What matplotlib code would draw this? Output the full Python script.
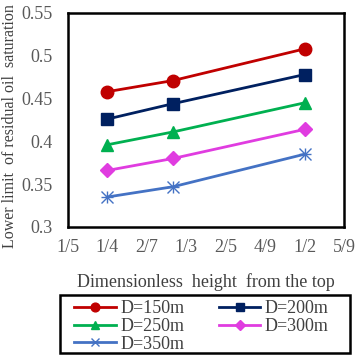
import matplotlib
matplotlib.use('Agg')
import matplotlib.pyplot as plt
from matplotlib.patches import Rectangle
from matplotlib.ticker import FixedLocator, FixedFormatter

plt.rcParams['font.family'] = ['Liberation Serif', 'DejaVu Serif']

# ====== Data ======
height = [1/4, 1/3, 1/2]
d150 = [0.458, 0.471, 0.508]
d200 = [0.426, 0.444, 0.478]
d250 = [0.396, 0.411, 0.445]
d300 = [0.366, 0.380, 0.414]
d350 = [0.335, 0.347, 0.385]

x_ticks = [0.2, 0.25, 0.3, 0.35, 0.4, 0.45, 0.5, 0.55]
x_tick_labels = ['1/5', '1/4', '2/7', '1/3', '2/5', '4/9', '1/2', '5/9']
y_ticks = [0.3, 0.35, 0.4, 0.45, 0.5, 0.55]
y_tick_labels = ['0.3', '0.35', '0.4', '0.45', '0.5', '0.55']

series = [
    ('D=150m', d150, '#C00000', 'o', 9),
    ('D=200m', d200, '#002060', 's', 8),
    ('D=250m', d250, '#00B050', '^', 8),
    ('D=300m', d300, '#E03CE0', 'D', 7),
    ('D=350m', d350, '#4472C4', 'x', 9),
]

# ====== Plot ======
fig = plt.figure(figsize=(3.63, 3.58), dpi=100)
ax = fig.add_axes([0.187, 0.366, 0.761, 0.598])

handles = {}
for label, vals, color, marker, ms in series:
    if marker == 'x':
        h, = ax.plot(height, vals, color=color, linewidth=2, marker='x', markersize=ms,
                     markeredgewidth=1, label=label)
        ax.plot(height, vals, color=color, linewidth=0, marker='+', markersize=ms,
                markeredgewidth=1)
    else:
        h, = ax.plot(height, vals, color=color, linewidth=2, marker=marker, markersize=ms,
                     label=label)
    handles[label] = h

ax.set_xlim(0.2, 0.55)
ax.set_ylim(0.3, 0.55)
ax.xaxis.set_major_locator(FixedLocator(x_ticks))
ax.xaxis.set_major_formatter(FixedFormatter(x_tick_labels))
ax.yaxis.set_major_locator(FixedLocator(y_ticks))
ax.yaxis.set_major_formatter(FixedFormatter(y_tick_labels))
ax.tick_params(axis='y', length=0, labelsize=13, labelcolor='#595959', pad=11)
ax.tick_params(axis='x', length=0, labelsize=13, labelcolor='#595959', pad=9)
for s in ax.spines.values():
    s.set_linewidth(1.8)
    s.set_color('black')

ax.set_xlabel('Dimensionless  height  from the top', fontsize=13,
              color='#404040', labelpad=12)
ax.set_ylabel('Lower limit  of residual oil  saturation', fontsize=11.5,
              color='#404040')
ax.yaxis.set_label_coords(-0.182, 0.47)

# legend frame drawn separately so the entries can sit inside with Excel spacing
fig.patches.append(Rectangle((0.165, 0.014), 0.799, 0.162, transform=fig.transFigure,
                             fill=False, edgecolor='black', linewidth=1.8))

# row-major order for a 2-column legend
order = ['D=150m', 'D=250m', 'D=350m', 'D=200m', 'D=300m']
leg = fig.legend([handles[k] for k in order], order, ncol=2, loc='upper left',
                 bbox_to_anchor=(0.205, 0.162), fontsize=13, frameon=False,
                 handlelength=2.3, handletextpad=0.25, borderpad=0.0,
                 labelspacing=0.05, borderaxespad=0, markerscale=0.7,
                 columnspacing=1.9)
for t in leg.get_texts():
    t.set_color('#404040')

plt.savefig('out.png', dpi=100)
